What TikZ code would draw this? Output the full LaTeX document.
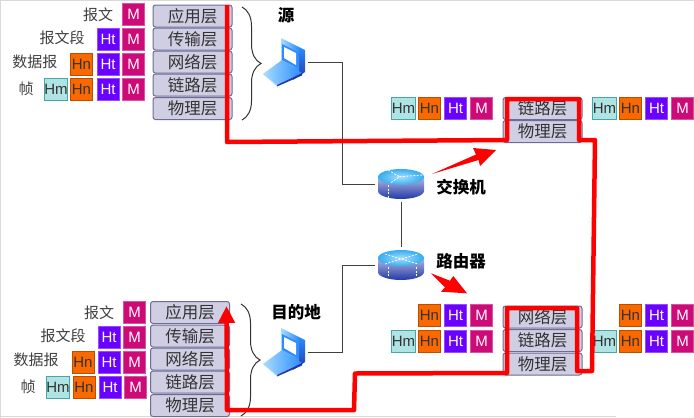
\documentclass[tikz,border=0pt]{standalone}
\usepackage{fontspec}
\setmainfont{Liberation Sans}
\newfontfamily\cjk{Noto Sans CJK SC}
\usepackage{xcolor}
\usepackage{tikz}
\usetikzlibrary{decorations.pathreplacing,arrows.meta}

\definecolor{colM}{HTML}{CC0A78}
\definecolor{colHt}{HTML}{6A00FF}
\definecolor{colHn}{HTML}{FA6800}
\definecolor{colHm}{HTML}{B0E3E3}
\definecolor{colLayer}{HTML}{D0CEE2}
\definecolor{edgeLayer}{HTML}{6C6C96}
\definecolor{iconLight}{HTML}{A8DCFF}
\definecolor{iconMid}{HTML}{2C8CFF}
\definecolor{iconDark}{HTML}{2238A8}
\definecolor{diskTop}{HTML}{35AEEE}

\newcommand{\drawdisk}{
	\shade [top color=iconDark!35!white, bottom color=iconDark] (-23,-7) -- (-23,7) arc [x radius=23, y radius=8, start angle=180, end angle=0] -- (23,-7) -- cycle;
	\shade [inner color=iconLight, outer color=diskTop] (0,-7) ellipse [x radius=23, y radius=8];
}

\tikzset{
	cell/.style={minimum width=22pt, minimum height=22pt, inner sep=0pt, line width=1pt, font=\fontsize{15}{15}\selectfont},
	cellM/.style={cell, fill=colM, draw=colM!70!white, text=white},
	cellHt/.style={cell, fill=colHt, draw=colHt!70!white, text=white},
	cellHn/.style={cell, fill=colHn, draw=colHn!75!black, text=black!80},
	cellHm/.style={cell, fill=colHm, draw=colHm!40!teal, text=black!80},
	layerbox/.style={draw=edgeLayer, fill=colLayer, line width=1pt, rounded corners=2.5pt, minimum width=79pt, minimum height=22pt, inner sep=0pt, text=black!80, font=\cjk\fontsize{16.5}{17}\selectfont},
	pdulabel/.style={text=black!75, inner sep=0pt, font=\cjk\fontsize{15}{16}\selectfont},
	boldlabel/.style={inner sep=0pt, font=\cjk\bfseries\fontsize{16.5}{17}\selectfont},
	iconbox/.style={minimum width=43pt, minimum height=47pt, inner sep=0pt, outer sep=1.5pt},
	diskbox/.style={minimum width=46pt, minimum height=30pt, inner sep=0pt, outer sep=3pt},
	dashline/.style={white, dashed, dash pattern=on 2pt off 1.5pt, line width=0.8pt},
	wire/.style={line width=1pt, black!75},
	redroute/.style={red, line width=4.5pt, line join=round},
	bracket/.style={decorate, decoration={brace, amplitude=19pt}, line width=1pt, black!80},
	laptop/.pic={
		\shade [top color=iconMid, bottom color=iconDark] (14,-15) -- (20,-12) -- (20,10) -- (8,18) -- (14,8) -- cycle;
		\shade [left color=iconLight, right color=iconMid] (-4,-24) -- (14,-15) -- (14,14) -- (-4,3) -- cycle;
		\fill [iconMid] (-3,-18) -- (13,-10) -- (13,6) -- (-3,-2) -- cycle;
		\fill [white] (-1,-15) -- (11,-9) -- (11,3) -- (-1,-4) -- cycle;
		\shade [left color=iconLight, right color=iconMid] (-22,12) -- (-3,-2) -- (17,11) -- (-8,23) -- cycle;
		\fill [iconDark] (-8,23) -- (17,11) -- (17,13.5) -- (-8,24.5) -- cycle;
		\fill [iconLight] (-22,12) -- (-8,23) -- (-8,24.5) -- cycle;
	},
	switchdisk/.pic={
		\drawdisk
		\draw [dashline] (-12.7,-14) -- (-1.7,-7.3) -- (-11,-0.7);
		\draw [dashline] (-1.7,-7.3) -- (22,-9);
		\draw [dashline] (-12.7,1) -- (-12.7,14);
	},
	routerdisk/.pic={
		\drawdisk
		\draw [dashline] (-16,-11) -- (17,-1);
		\draw [dashline] (-16,-1) -- (17,-11);
		\draw [dashline] (-12.7,2.3) -- (-12.7,12);
		\draw [dashline] (15.7,2.3) -- (15.7,12);
	},
}

\begin{document}
\begin{tikzpicture}[x=1pt, y=-1pt]
	\useasboundingbox (0,0) rectangle (694,418);
	\fill [white] (0,0) rectangle (694,418);
	\draw [black!15, line width=1pt] (0.5,418) -- (0.5,0.5) -- (694,0.5);
	\draw [black!15, line width=1pt] (0,416.5) -- (616,416.5);
	
	% sending host
	\node [pdulabel] (srcL1) at (98,15) {报文};
	\node [pdulabel] (srcL2) at (62,38) {报文段};
	\node [pdulabel] (srcL3) at (35,62) {数据报};
	\node [pdulabel] (srcL4) at (26,89) {帧};
	
	\node [cellM] (srcMa) at (133.5,14.5) {M};
	\node [cellHt] (srcTb) at (108,39.5) {Ht};
	\node [cellM] (srcMb) at (133.5,39.5) {M};
	\node [cellHn] (srcNc) at (81.5,64.5) {Hn};
	\node [cellHt] (srcTc) at (108,64.5) {Ht};
	\node [cellM] (srcMc) at (133.5,64.5) {M};
	\node [cellHm] (srcHd) at (56,89.5) {Hm};
	\node [cellHn] (srcNd) at (81.5,89.5) {Hn};
	\node [cellHt] (srcTd) at (108,89.5) {Ht};
	\node [cellM] (srcMd) at (133.5,89.5) {M};
	
	\node [layerbox] (srcApp) at (192.5,16) {应用层};
	\node [layerbox] (srcTra) at (192.5,39) {传输层};
	\node [layerbox] (srcNet) at (192.5,62) {网络层};
	\node [layerbox] (srcLnk) at (192.5,85) {链路层};
	\node [layerbox] (srcPhy) at (192.5,108.5) {物理层};
	
	\draw [bracket] (242,7) -- (242,120);
	\node [boldlabel] (srcName) at (286,15) {源};
	\node [iconbox] (srcPC) at (285,62) {};
	\pic at (srcPC) {laptop};
	
	% switch
	\node [diskbox] (switch) at (401,184) {};
	\pic at (switch) {switchdisk};
	\node [boldlabel] (switchName) at (461,187) {交换机};
	
	\node [cellHm] (swHa) at (403.5,108) {Hm};
	\node [cellHn] (swNa) at (429.5,108) {Hn};
	\node [cellHt] (swTa) at (455.5,108) {Ht};
	\node [cellM] (swMa) at (481.5,108) {M};
	\node [layerbox] (swLnk) at (542.5,108.5) {链路层};
	\node [layerbox] (swPhy) at (542.5,131.5) {物理层};
	\node [cellHm] (swHb) at (604.5,108) {Hm};
	\node [cellHn] (swNb) at (630.5,108) {Hn};
	\node [cellHt] (swTb) at (656.5,108) {Ht};
	\node [cellM] (swMb) at (682.5,108) {M};
	
	% router
	\node [diskbox] (router) at (401,265) {};
	\pic at (router) {routerdisk};
	\node [boldlabel] (routerName) at (461,261) {路由器};
	
	\node [cellHn] (rtNa) at (429.5,315) {Hn};
	\node [cellHt] (rtTa) at (455.5,315) {Ht};
	\node [cellM] (rtMa) at (481.5,315) {M};
	\node [cellHm] (rtHb) at (403.5,341) {Hm};
	\node [cellHn] (rtNb) at (429.5,341) {Hn};
	\node [cellHt] (rtTb) at (455.5,341) {Ht};
	\node [cellM] (rtMb) at (481.5,341) {M};
	\node [layerbox] (rtNet) at (542.5,317) {网络层};
	\node [layerbox] (rtLnk) at (542.5,340.5) {链路层};
	\node [layerbox] (rtPhy) at (542.5,364) {物理层};
	\node [cellHn] (rtNc) at (630.5,315) {Hn};
	\node [cellHt] (rtTc) at (656.5,315) {Ht};
	\node [cellM] (rtMc) at (682.5,315) {M};
	\node [cellHm] (rtHd) at (604.5,341) {Hm};
	\node [cellHn] (rtNd) at (630.5,341) {Hn};
	\node [cellHt] (rtTd) at (656.5,341) {Ht};
	\node [cellM] (rtMd) at (682.5,341) {M};
	
	% receiving host
	\node [pdulabel] (dstL1) at (99,313) {报文};
	\node [pdulabel] (dstL2) at (63,336) {报文段};
	\node [pdulabel] (dstL3) at (36,360) {数据报};
	\node [pdulabel] (dstL4) at (28,387) {帧};
	
	\node [cellM] (dstMa) at (134.5,312.5) {M};
	\node [cellHt] (dstTb) at (109,337.5) {Ht};
	\node [cellM] (dstMb) at (134.5,337.5) {M};
	\node [cellHn] (dstNc) at (83,362.5) {Hn};
	\node [cellHt] (dstTc) at (109,362.5) {Ht};
	\node [cellM] (dstMc) at (134.5,362.5) {M};
	\node [cellHm] (dstHd) at (58,387.5) {Hm};
	\node [cellHn] (dstNd) at (84,387.5) {Hn};
	\node [cellHt] (dstTd) at (110,387.5) {Ht};
	\node [cellM] (dstMd) at (135.5,387.5) {M};
	
	\node [layerbox] (dstApp) at (190,312.5) {应用层};
	\node [layerbox] (dstTra) at (190,336) {传输层};
	\node [layerbox] (dstNet) at (190,359) {网络层};
	\node [layerbox] (dstLnk) at (190,382) {链路层};
	\node [layerbox] (dstPhy) at (190,405.5) {物理层};
	
	\draw [bracket] (241,304) -- (241,416);
	\node [boldlabel] (dstName) at (296,312) {目的地};
	\node [iconbox] (dstPC) at (285,352) {};
	\pic at (dstPC) {laptop};
	
	% links
	\coordinate (srcBend) at (342,62);
	\coordinate (dstBend) at (342,352);
	\draw [wire] (srcPC.east) -- (srcBend) |- (switch.west);
	\draw [wire] (switch.south) -- (router.north);
	\draw [wire] (router.west) -| (dstBend) -- (dstPC.east);
	
	% red route
	\draw [redroute, -{Triangle[width=16pt,length=17pt]}] (227,5) -- (227,142) -- (507,140) -- (507,99) -- (579,99) -- (579,140) -- (595,140) -- (592,371) -- (577,371) -- (577,308) -- (507,308) -- (507,373) -- (355,373.5) -- (354,410) -- (227,410) -- (226.5,306);
	
	% block arrows
	\fill [red] (432,174) -- (476,154.5) -- (473,148) -- (496,150) -- (480,166) -- (478.5,160) -- cycle;
	\fill [red] (431,273.3) -- (450,280.7) -- (453.3,276) -- (467,293.3) -- (441,291.7) -- (445,287.3) -- cycle;
\end{tikzpicture}
\end{document}
